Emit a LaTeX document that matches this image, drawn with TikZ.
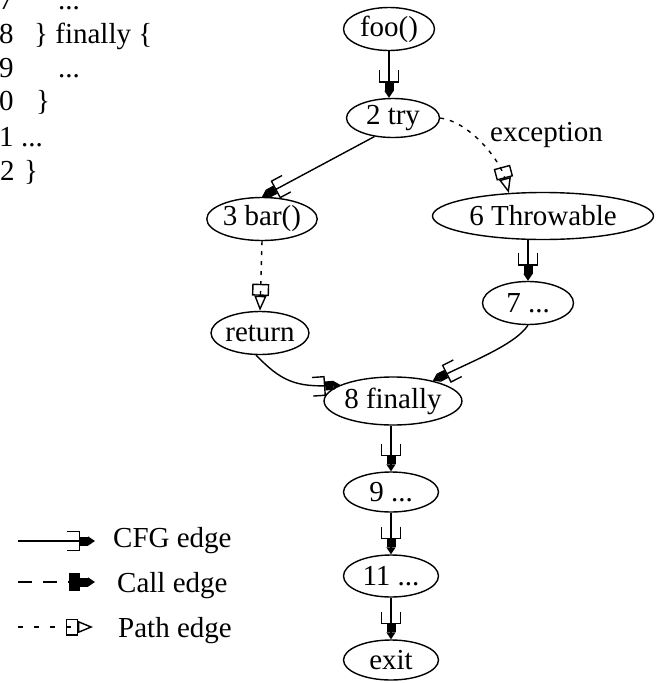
\documentclass[tikz,border=0pt]{standalone}
\usepackage{fontspec}
\setmainfont{Liberation Serif}
\usetikzlibrary{arrows.meta,shapes.geometric}
\begin{document}
\begin{tikzpicture}[x=1pt,y=-1pt,
  font=\fontsize{29}{32}\selectfont,
  blk/.style 2 args={draw, ellipse, line width=1.4pt, inner sep=0pt,
    minimum width=#1, minimum height=#2},
  txt/.style={anchor=base west, inner sep=0pt},
  cfg/.style={line width=1.4pt,
    -{Bracket[length=12pt,width=20pt,sep=0pt]
      Rectangle[length=8pt,width=9pt,sep=0pt]
      Triangle[length=7pt,width=9pt]}},
  callE/.style={line width=1.4pt, dash pattern=on 14pt off 11pt,
    -{Rectangle[length=11pt,width=18pt,sep=0pt]
      Rectangle[length=8pt,width=9pt,sep=0pt]
      Triangle[length=7pt,width=9pt]}},
  pathE/.style={line width=1.4pt, dash pattern=on 4pt off 6pt,
    -{Rectangle[open,length=12pt,width=17pt,sep=0pt]
      Triangle[open,length=15pt,width=12pt]}}
]
\useasboundingbox (0,0) rectangle (660,683);

% source listing (lines 7-12)
\node[txt] (n7)  at (-1,9)   {7};
\node[txt] (c7)  at (58,9)   {...};
\node[txt] (n8)  at (-1,43)  {8};
\node[txt] (c8)  at (34,43)  {\} finally \{};
\node[txt] (n9)  at (-1,77)  {9};
\node[txt] (c9)  at (58,77)  {...};
\node[txt] (n10) at (-1,110) {0};
\node[txt] (c10) at (36,110) {\}};
\node[txt] (n11) at (-1,146) {1};
\node[txt] (c11) at (21,146) {...};
\node[txt] (n12) at (0,180)  {2};
\node[txt] (c12) at (24,180) {\}};

% control flow graph
\node[blk={91}{43}]  (foo)  at (389,29)  {foo()};
\node[blk={93}{39}]  (try)  at (393,118) {2 try};
\node[blk={95}{43}]  (bar)  at (262,219) {3 bar()};
\node[blk={221}{47}] (thr)  at (543,216) {6 Throwable};
\node[blk={94}{43}]  (ret)  at (260,333) {return};
\node[blk={91}{43}]  (sev)  at (528,303) {7 ...};
\node[blk={115}{48}] (fin)  at (393,401) {8 finally};
\node[blk={95}{40}]  (nine) at (391,492) {9 ...};
\node[blk={95}{42}]  (elev) at (391,576) {11 ...};
\node[blk={95}{40}]  (exit) at (391,660) {exit};
\node[txt] (exc) at (490,141) {exception};

\draw[cfg] (foo.south) -- (foo.south |- try.north);
\draw[cfg] (try.225) -- (bar.north);
\draw[pathE] (try.east) .. controls (470,122) and (500,160) .. (thr.146);
\draw[pathE] (bar.south) -- (ret.north);
\draw[cfg] (sev.north |- thr.south) -- (sev.north);
\draw[cfg] (ret.260) .. controls (280,380) and (295,388) .. (fin.163);
\draw[cfg] (sev.south) .. controls (515,345) and (470,362) .. (fin.27);
\draw[cfg] (nine.north |- fin.south) -- (nine.north);
\draw[cfg] (nine.south) -- (elev.north);
\draw[cfg] (elev.south) -- (exit.north);

% legend
\coordinate (l1a) at (18,541);
\coordinate (l1b) at (95,541);
\coordinate (l2a) at (18,582);
\coordinate (l2b) at (95,582);
\coordinate (l3a) at (18,627);
\coordinate (l3b) at (93,627);
\draw[cfg] (l1a) -- (l1b);
\draw[callE] (l2a) -- (l2b);
\draw[pathE, dash pattern=on 5pt off 11pt] (l3a) -- (l3b);
\node[txt] (t1) at (113,547) {CFG edge};
\node[txt] (t2) at (117,592) {Call edge};
\node[txt] (t3) at (118,637) {Path edge};
\end{tikzpicture}
\end{document}
